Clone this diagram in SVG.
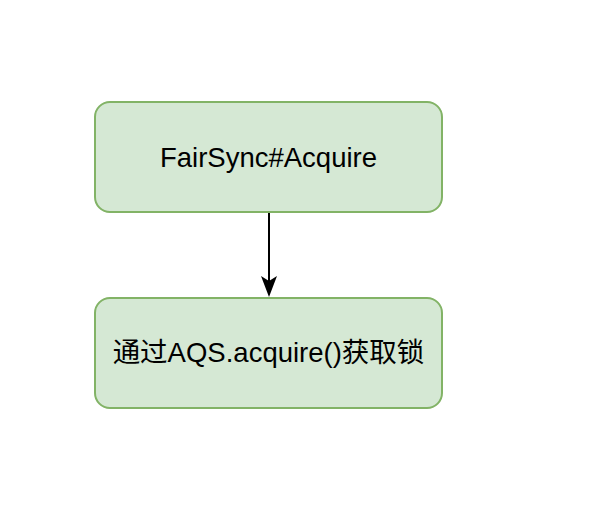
<svg xmlns="http://www.w3.org/2000/svg" width="592" height="508" viewBox="0 0 592 508">
<defs>
<style>
.box{fill:#d5e8d4;stroke:#82b366;stroke-width:2}
.lbl{font-family:"Liberation Sans","Noto Sans CJK SC",sans-serif;font-size:27.5px;fill:#000;text-anchor:middle}
.edge{stroke:#000;stroke-width:2;fill:none}
</style>
</defs>
<rect width="592" height="508" fill="#fff"/>
<g id="connectors">
<line class="edge" x1="269" y1="212" x2="269" y2="286"/>
<path d="M261 276 L269 297 L277 276 L269 281 Z" fill="#000"/>
</g>
<g id="node1">
<rect class="box" x="95" y="102" width="347" height="110" rx="15"/>
<text class="lbl" x="268.5" y="167">FairSync#Acquire</text>
</g>
<g id="node2">
<rect class="box" x="95" y="298" width="347" height="110" rx="15"/>
<text class="lbl" x="268.5" y="362">通过AQS.acquire()获取锁</text>
</g>
</svg>
